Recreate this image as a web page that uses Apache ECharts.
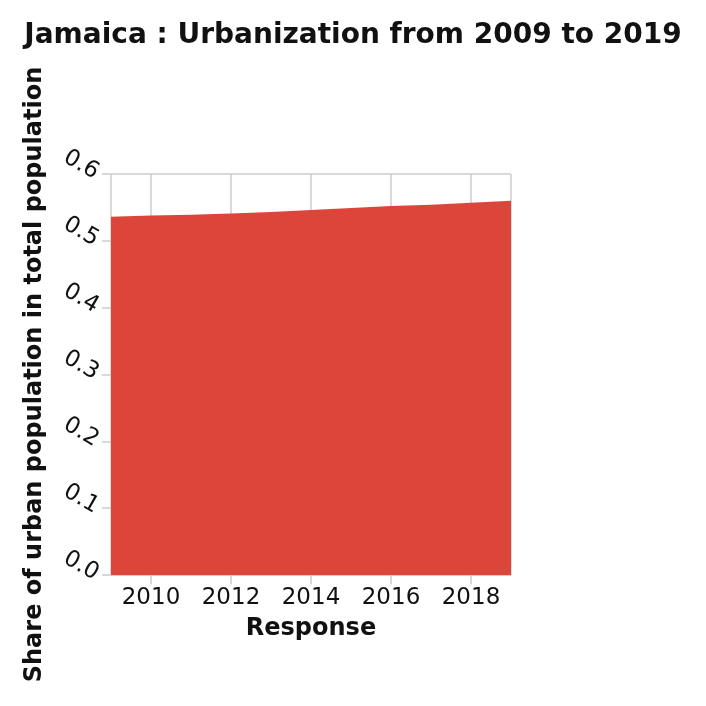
<!DOCTYPE html>
<html>
<head>
<meta charset="utf-8">
<script src="https://cdn.jsdelivr.net/npm/echarts@6/dist/echarts.min.js"></script>
<style>
  html, body { margin: 0; padding: 0; background: #fff; }
  #chart { width: 706px; height: 706px; }
</style>
</head>
<body>
<div id="chart"></div>
<script>
var years = [2009, 2010, 2011, 2012, 2013, 2014, 2015, 2016, 2017, 2018, 2019];
var urbanShare = [0.536, 0.538, 0.539, 0.541, 0.543, 0.546, 0.549, 0.552, 0.554, 0.557, 0.560];
var yTicks = [0, 0.1, 0.2, 0.3, 0.4, 0.5, 0.6];

var chart = echarts.init(document.getElementById("chart"));

var seriesData = years.map(function (y, i) {
  return [y, urbanShare[i]];
});

var option = {
  animation: false,
  title: {
    text: "Jamaica : Urbanization from 2009 to 2019",
    left: "center",
    top: 17,
    textStyle: {
      fontFamily: "DejaVu Sans",
      fontWeight: "bold",
      fontSize: 28,
      color: "#111",
    },
  },
  grid: {
    left: 111,
    right: 195,
    top: 174,
    bottom: 131,
  },
  xAxis: {
    type: "value",
    min: years[0],
    max: years[years.length - 1],
    splitNumber: 5,
    name: "Response",
    nameLocation: "middle",
    nameGap: 42,
    nameTextStyle: {
      fontFamily: "DejaVu Sans",
      fontWeight: "bold",
      fontSize: 24,
      color: "#111",
    },
    axisLine: { show: true, lineStyle: { color: "#cccccc", width: 1.5 } },
    axisTick: { show: true, length: 9, lineStyle: { color: "#cccccc", width: 1.5 } },
    axisLabel: {
      showMinLabel: false,
      showMaxLabel: false,
      fontFamily: "DejaVu Sans",
      fontSize: 23,
      color: "#111",
      margin: 12,
      formatter: function (v) {
        return String(v);
      },
    },
    splitLine: { show: true, lineStyle: { color: "#cccccc", width: 1.5 } },
  },
  yAxis: {
    type: "value",
    min: yTicks[0],
    max: yTicks[yTicks.length - 1],
    interval: 0.1,
    name: "Share of urban population in total population",
    nameLocation: "middle",
    nameGap: 64,
    nameTextStyle: {
      fontFamily: "DejaVu Sans",
      fontWeight: "bold",
      fontSize: 24,
      color: "#111",
    },
    axisLine: { show: false },
    axisTick: { show: true, length: 9, lineStyle: { color: "#cccccc", width: 1.5 } },
    axisLabel: {
      rotate: -30,
      fontFamily: "DejaVu Sans",
      fontSize: 23,
      color: "#111",
      margin: 14,
      formatter: function (v) {
        return v.toFixed(1);
      },
    },
    splitLine: { show: true, lineStyle: { color: "#cccccc", width: 1.5 } },
  },
  series: [
    {
      type: "line",
      data: seriesData,
      symbol: "none",
      lineStyle: { width: 0 },
      areaStyle: { color: "#dc453a", opacity: 1 },
      itemStyle: { color: "#dc453a" },
    },
  ],
};
chart.setOption(option);
</script>
</body>
</html>
